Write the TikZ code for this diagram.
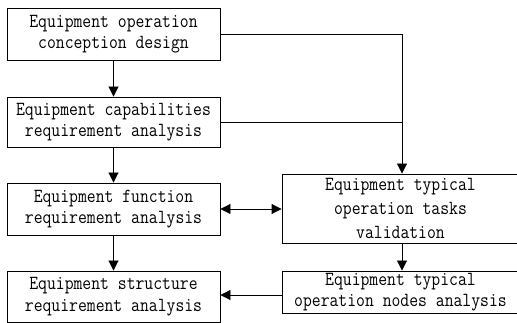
\documentclass[tikz,border=0pt]{standalone}
\usepackage{fontspec}
\newfontfamily\boxfont[FakeStretch=0.86]{Latin Modern Mono}
\usetikzlibrary{arrows.meta}
\tikzset{
  box/.style={draw=black, line width=0.9pt, inner sep=0pt, align=center,
    font=\boxfont\fontsize{20}{21.5}\selectfont},
  conn/.style={line width=0.9pt, draw=black},
  tip/.style={-{Triangle[length=10pt,width=10pt]}}
}
\begin{document}
\begin{tikzpicture}[x=1pt,y=-1pt]
\useasboundingbox (0,0) rectangle (517,323);
\node[box, minimum width=213pt, minimum height=52pt] (B1) at (113.5,34) {Equipment operation\\conception design};
\node[box, minimum width=213pt, minimum height=50pt] (B2) at (113.5,122) {Equipment capabilities\\requirement analysis};
\node[box, minimum width=213pt, minimum height=52pt] (B3) at (113.5,209) {Equipment function\\requirement analysis};
\node[box, minimum width=213pt, minimum height=51pt] (B4) at (113.5,296.5) {Equipment structure\\requirement analysis};
\node[box, minimum width=237pt, minimum height=69pt, font=\boxfont\fontsize{20}{24}\selectfont] (T) at (400.5,208.5) {Equipment typical\\operation tasks\\validation};
\node[box, minimum width=237pt, minimum height=42pt] (N) at (400.5,292) {Equipment typical\\operation nodes analysis};
\coordinate (j) at (402,34);
\coordinate (k) at (282,295);
\draw[conn,tip] (B1) -- (B2);
\draw[conn,tip] (B2) -- (B3);
\draw[conn,tip] (B3) -- (B4);
\draw[conn,tip] (B1.east) -- (j) -- (j |- T.north);
\draw[conn] (B2.east) -- (B2.east -| j);
\draw[conn,tip] (j |- T.south) -- (j |- N.north);
\draw[conn,{Triangle[length=10pt,width=10pt]}-{Triangle[length=10pt,width=10pt]}] (B3.east) -- (B3.east -| T.west);
\draw[conn,tip] (k) -- (k -| B4.east);
\end{tikzpicture}
\end{document}
